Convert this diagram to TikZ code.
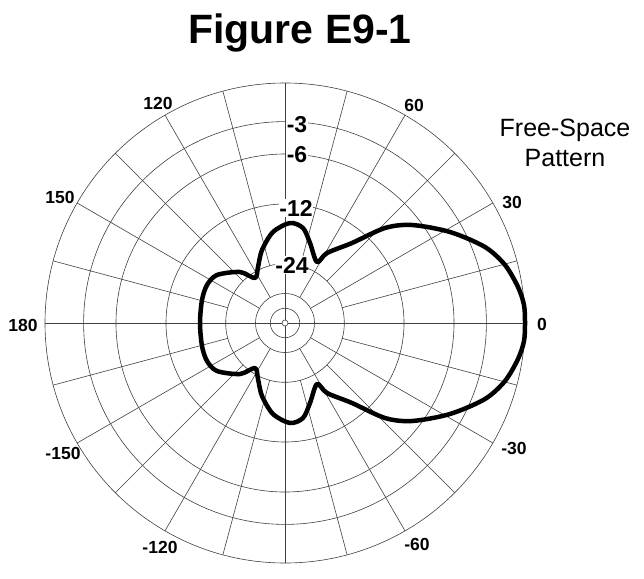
\documentclass[tikz,border=0pt]{standalone}
\usepackage{fontspec}
\setmainfont{Liberation Sans}
\begin{document}
\begin{tikzpicture}[x=1pt,y=-1pt,
  ring/.style={draw=black!75,line width=0.6pt},
  spoke/.style={draw=black!75,line width=0.6pt},
  ang/.style={font=\fontsize{17.5}{17.5}\selectfont\bfseries},
  dbl/.style={font=\fontsize{23}{23}\selectfont\bfseries,fill=white,inner sep=0.5pt},
  patt/.style={line width=4.5pt,line join=round}]
\useasboundingbox (0,0) rectangle (644,578);
\coordinate (c) at (285,323);
\node[font=\fontsize{41}{41}\selectfont\bfseries] (title) at (300,33) {Figure E9-1};
% rings: r = 240*0.89^(-dB/2)
\foreach \r in {240,201.4,169,119,59.3,29.5,14.7}{\draw[ring] (c) circle[radius=\r];}
\draw[ring] (c) circle[radius=3];
\foreach \a in {0,90,180,270}{\draw[spoke] (c) ++(\a:3) -- ++(\a:237);}
\foreach \a in {30,60,120,150,210,240,300,330}{\draw[spoke] (c) ++(\a:29.5) -- ++(\a:210.5);}
\foreach \a in {15,45,75,105,135,165,195,225,255,285,315,345}{\draw[spoke] (c) ++(\a:59.3) -- ++(\a:180.7);}
% angle labels
\node[ang] (l0) at (542,324) {0};
\node[ang] (l30) at (512,202) {30};
\node[ang] (l60) at (414,105) {60};
\node[ang] (l120) at (158,103) {120};
\node[ang] (l150) at (60,197) {150};
\node[ang] (l180) at (23,325) {180};
\node[ang] (lm30) at (514,448) {-30};
\node[ang] (lm60) at (417,544) {-60};
\node[ang] (lm120) at (160,547) {-120};
\node[ang] (lm150) at (63,453) {-150};
% pattern
\draw[patt] plot[smooth cycle,tension=0.5] coordinates {
(525,323)(524,305)(518,287)(505,265)(485,247)(450,232)(412,225)(385,228)(352,243)(327,253)(317,262)(310,243)(303,228)(290,223)(273,232)(262,250)(258,267)(255,278)(240,272)(217,275)(207,285)(202,300)(200,323)
(202,346)(207,361)(217,371)(240,374)(255,368)(258,379)(262,396)(273,414)(290,423)(303,418)(310,403)(317,384)(327,393)(352,403)(385,418)(412,421)(450,414)(485,399)(505,381)(518,359)(524,341)};
% dB labels
\node[dbl] (d3) at (297,125) {-3};
\node[dbl] (d6) at (297,155) {-6};
\node[dbl] (d12) at (296,208) {-12};
\node[dbl] (d24) at (292,265) {-24};
\node[font=\fontsize{25}{30}\selectfont,align=center] (fs) at (565,143) {Free-Space\\Pattern};
\end{tikzpicture}
\end{document}
